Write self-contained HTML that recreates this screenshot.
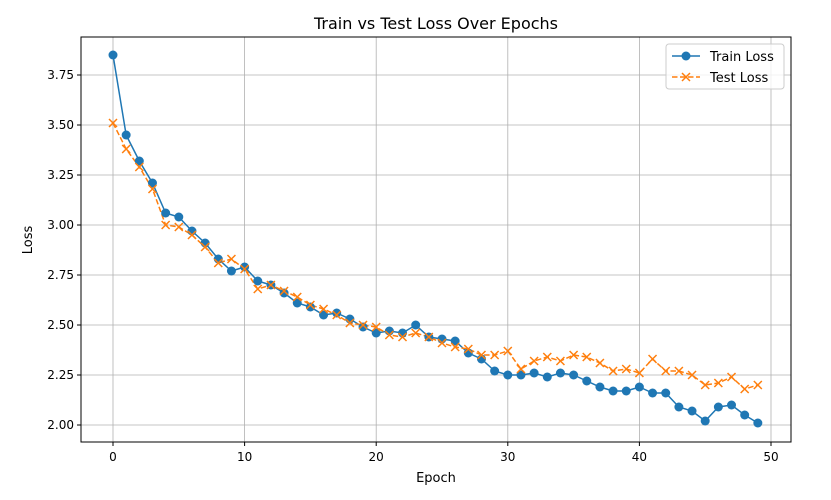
<!DOCTYPE html>
<html><head><meta charset="utf-8"><style>
body{margin:0;background:#fff;font-family:"Liberation Sans","DejaVu Sans",sans-serif;}
svg text{font-family:"DejaVu Sans","Liberation Sans",sans-serif;}
</style></head><body>
<svg id="chart" width="831" height="495" xmlns="http://www.w3.org/2000/svg">
<rect x="0" y="0" width="831" height="495" fill="#fff"/>
<text x="436" y="29" font-size="16" text-anchor="middle" fill="#000">Train vs Test Loss Over Epochs</text>
<g id="grid"></g><g id="ticks"></g><g id="series"></g>
<rect x="81" y="37" width="710" height="405" fill="none" stroke="#000" stroke-width="1"/>
<text x="436" y="482" font-size="13" text-anchor="middle">Epoch</text>
<text x="32" y="240" font-size="13" text-anchor="middle" transform="rotate(-90 32 240)">Loss</text>
<g>
<rect x="666" y="44" width="118" height="45" rx="3" fill="#fff" fill-opacity="0.8" stroke="#ccc"/>
<g>
<line x1="672" y1="56" x2="700" y2="56" stroke="#1f77b4" stroke-width="1.5"/><circle cx="686" cy="56" r="4.5" fill="#1f77b4"/>
<text x="710" y="61" font-size="13">Train Loss</text></g>
<g>
<line x1="672" y1="77" x2="700" y2="77" stroke="#ff7f0e" stroke-width="1.5" stroke-dasharray="5.5,2.5"/>
<path d="M682,73 l8,8 M690,73 l-8,8" stroke="#ff7f0e" stroke-width="1.5"/>
<text x="710" y="82" font-size="13">Test Loss</text></g>
</g>
</svg>
<script>
const train=[3.85,3.45,3.32,3.21,3.06,3.04,2.97,2.91,2.83,2.77,2.79,2.72,2.70,2.66,2.61,2.59,2.55,2.56,2.53,2.49,2.46,2.47,2.46,2.50,2.44,2.43,2.42,2.36,2.33,2.27,2.25,2.25,2.26,2.24,2.26,2.25,2.22,2.19,2.17,2.17,2.19,2.16,2.16,2.09,2.07,2.02,2.09,2.10,2.05,2.01];
const test=[3.51,3.38,3.29,3.18,3.00,2.99,2.95,2.89,2.81,2.83,2.78,2.68,2.70,2.67,2.64,2.60,2.58,2.55,2.51,2.50,2.49,2.45,2.44,2.46,2.44,2.41,2.39,2.38,2.35,2.35,2.37,2.28,2.32,2.34,2.32,2.35,2.34,2.31,2.27,2.28,2.26,2.33,2.27,2.27,2.25,2.20,2.21,2.24,2.18,2.20];
const xTicks=[0,10,20,30,40,50];
const yTicks=[2.00,2.25,2.50,2.75,3.00,3.25,3.50,3.75];
const NS="http://www.w3.org/2000/svg";
const X=v=>113+v*(771-113)/50;
const Y=v=>425-(v-2)*200;
function mk(t,a,p){const e=document.createElementNS(NS,t);for(const k in a)e.setAttribute(k,a[k]);p.appendChild(e);return e;}
const grid=document.getElementById('grid'),ticks=document.getElementById('ticks'),ser=document.getElementById('series');
xTicks.forEach(t=>{const x=X(t);
const g=mk('line',{x1:x,y1:37,x2:x,y2:442,stroke:'#b0b0b0','stroke-width':0.8},grid);


mk('line',{x1:x,y1:442,x2:x,y2:446,stroke:'#000'},ticks);
const tx=mk('text',{x:x,y:461,'font-size':12,'text-anchor':'middle'},ticks);tx.textContent=t;

});
yTicks.forEach(t=>{const y=Y(t);
const g=mk('line',{x1:81,y1:y,x2:791,y2:y,stroke:'#b0b0b0','stroke-width':0.8},grid);


mk('line',{x1:77,y1:y,x2:81,y2:y,stroke:'#000'},ticks);
const tx=mk('text',{x:74,y:y+4,'font-size':12,'text-anchor':'end'},ticks);tx.textContent=t.toFixed(2);

});
const tl=mk('polyline',{points:train.map((v,i)=>X(i)+','+Y(v)).join(' '),fill:'none',stroke:'#1f77b4','stroke-width':1.5},ser);


const sl=mk('polyline',{points:test.map((v,i)=>X(i)+','+Y(v)).join(' '),fill:'none',stroke:'#ff7f0e','stroke-width':1.5,'stroke-dasharray':'5.5,2.5'},ser);


train.forEach((v,i)=>{const c=mk('circle',{cx:X(i),cy:Y(v),r:4.5,fill:'#1f77b4'},ser);

});
test.forEach((v,i)=>{const x=X(i),y=Y(v);
const p=mk('path',{d:`M${x-4},${y-4} l8,8 M${x+4},${y-4} l-8,8`,stroke:'#ff7f0e','stroke-width':1.5},ser);

});
</script>
</body></html>
